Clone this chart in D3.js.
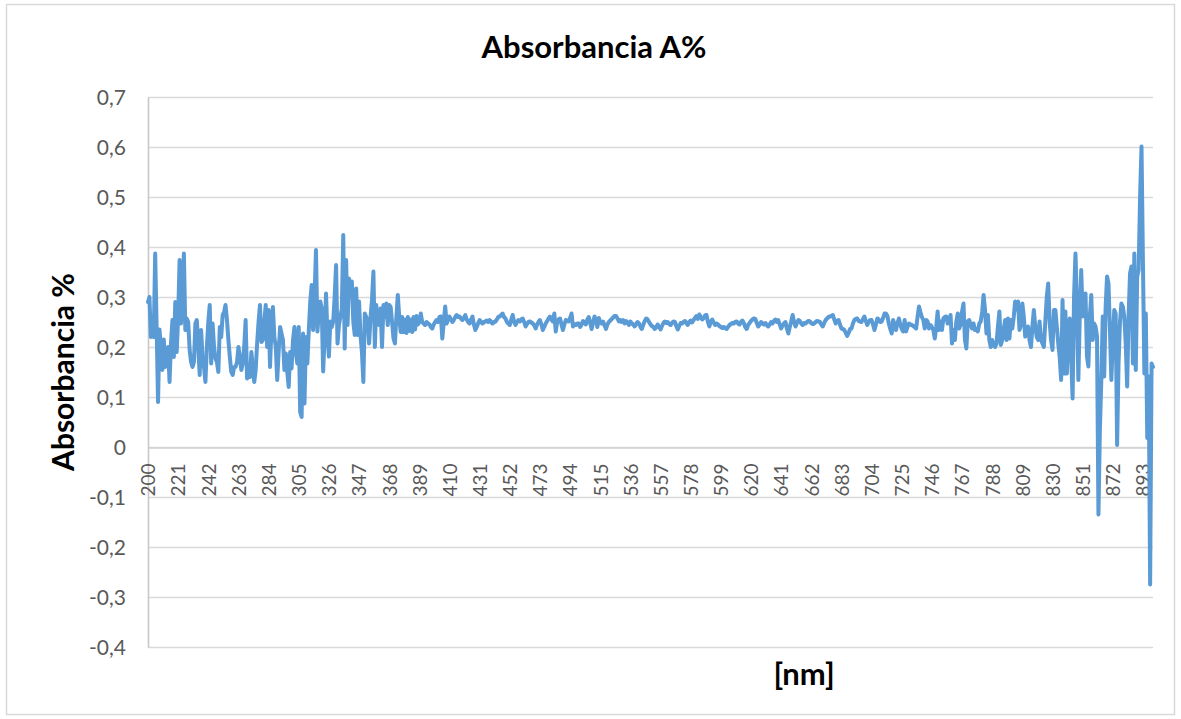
<!DOCTYPE html>
<html>
<head>
<meta charset="utf-8">
<script src="https://cdn.jsdelivr.net/npm/d3@7"></script>
<style>
  html, body { margin: 0; padding: 0; background: #ffffff; }
  svg { display: block; }
  text { font-family: Lato, "Open Sans", sans-serif; }
</style>
</head>
<body>
<svg id="chart" width="1181" height="719"></svg>
<script>
// Wavelength categories, 1 nm apart
const wavelengths = d3.range(200, 901);

// Absorbance readings, one per wavelength (200 nm … 900 nm)
const absorbance = [
  0.29, 0.30, 0.22, 0.25, 0.22, 0.387, 0.24, 0.09, 0.235, 0.20,
  0.154, 0.215, 0.16, 0.17, 0.20, 0.13, 0.207, 0.254, 0.18, 0.29,
  0.19, 0.26, 0.374, 0.247, 0.30, 0.387, 0.234, 0.257, 0.25, 0.194,
  0.17, 0.16, 0.17, 0.247, 0.254, 0.20, 0.144, 0.234, 0.18, 0.16,
  0.13, 0.20, 0.25, 0.284, 0.167, 0.247, 0.20, 0.177, 0.17, 0.15,
  0.24, 0.22, 0.264, 0.27, 0.284, 0.254, 0.214, 0.18, 0.15, 0.144,
  0.16, 0.16, 0.17, 0.20, 0.18, 0.154, 0.167, 0.20, 0.254, 0.137,
  0.15, 0.14, 0.19, 0.16, 0.13, 0.154, 0.207, 0.25, 0.284, 0.21,
  0.214, 0.25, 0.284, 0.20, 0.274, 0.16, 0.24, 0.28, 0.22, 0.20,
  0.134, 0.19, 0.24, 0.227, 0.214, 0.154, 0.187, 0.15, 0.12, 0.19,
  0.157, 0.214, 0.24, 0.19, 0.167, 0.24, 0.07, 0.06, 0.227, 0.087,
  0.22, 0.167, 0.234, 0.29, 0.324, 0.234, 0.30, 0.394, 0.231, 0.27,
  0.291, 0.277, 0.151, 0.22, 0.307, 0.224, 0.181, 0.251, 0.24, 0.251,
  0.30, 0.364, 0.207, 0.244, 0.26, 0.277, 0.424, 0.197, 0.374, 0.244,
  0.337, 0.311, 0.331, 0.25, 0.224, 0.317, 0.224, 0.291, 0.224, 0.19,
  0.13, 0.267, 0.26, 0.251, 0.207, 0.26, 0.294, 0.351, 0.20, 0.284,
  0.25, 0.244, 0.277, 0.20, 0.284, 0.26, 0.287, 0.244, 0.284, 0.28,
  0.25, 0.217, 0.207, 0.26, 0.304, 0.26, 0.23, 0.26, 0.23, 0.255,
  0.228, 0.26, 0.232, 0.255, 0.23, 0.26, 0.235, 0.262, 0.245, 0.25,
  0.267, 0.25, 0.247, 0.244, 0.25, 0.247, 0.245, 0.24, 0.237, 0.245,
  0.25, 0.254, 0.25, 0.26, 0.261, 0.217, 0.25, 0.281, 0.247, 0.255,
  0.261, 0.255, 0.25, 0.254, 0.26, 0.264, 0.26, 0.261, 0.257, 0.254,
  0.258, 0.264, 0.255, 0.25, 0.247, 0.255, 0.261, 0.245, 0.234, 0.24,
  0.248, 0.254, 0.25, 0.247, 0.25, 0.251, 0.253, 0.25, 0.254, 0.25,
  0.247, 0.25, 0.251, 0.255, 0.26, 0.261, 0.264, 0.267, 0.26, 0.257,
  0.25, 0.247, 0.244, 0.255, 0.264, 0.25, 0.244, 0.25, 0.254, 0.251,
  0.255, 0.257, 0.25, 0.241, 0.246, 0.25, 0.251, 0.249, 0.247, 0.243,
  0.237, 0.245, 0.25, 0.254, 0.245, 0.234, 0.24, 0.247, 0.252, 0.257,
  0.261, 0.255, 0.251, 0.267, 0.231, 0.25, 0.255, 0.257, 0.245, 0.234,
  0.245, 0.254, 0.252, 0.251, 0.258, 0.267, 0.241, 0.246, 0.244, 0.247,
  0.247, 0.24, 0.245, 0.252, 0.249, 0.245, 0.255, 0.26, 0.248, 0.236,
  0.25, 0.261, 0.254, 0.24, 0.258, 0.25, 0.247, 0.251, 0.243, 0.236,
  0.245, 0.25, 0.253, 0.256, 0.259, 0.262, 0.262, 0.257, 0.251, 0.254,
  0.25, 0.254, 0.247, 0.252, 0.249, 0.244, 0.251, 0.247, 0.245, 0.241,
  0.246, 0.25, 0.247, 0.24, 0.236, 0.245, 0.252, 0.257, 0.255, 0.25,
  0.245, 0.242, 0.24, 0.236, 0.24, 0.245, 0.24, 0.235, 0.242, 0.248,
  0.251, 0.248, 0.25, 0.246, 0.244, 0.248, 0.251, 0.25, 0.242, 0.235,
  0.242, 0.248, 0.247, 0.25, 0.252, 0.248, 0.244, 0.25, 0.253, 0.249,
  0.254, 0.258, 0.262, 0.256, 0.265, 0.26, 0.255, 0.258, 0.263, 0.264,
  0.25, 0.241, 0.25, 0.255, 0.249, 0.244, 0.247, 0.245, 0.242, 0.24,
  0.238, 0.24, 0.238, 0.236, 0.24, 0.244, 0.246, 0.248, 0.247, 0.25,
  0.251, 0.247, 0.245, 0.25, 0.253, 0.248, 0.24, 0.236, 0.244, 0.248,
  0.252, 0.255, 0.257, 0.256, 0.248, 0.241, 0.245, 0.25, 0.247, 0.245,
  0.248, 0.244, 0.241, 0.245, 0.25, 0.247, 0.252, 0.255, 0.25, 0.254,
  0.245, 0.237, 0.243, 0.247, 0.25, 0.237, 0.227, 0.24, 0.251, 0.264,
  0.25, 0.241, 0.248, 0.254, 0.252, 0.247, 0.244, 0.248, 0.247, 0.25,
  0.252, 0.251, 0.248, 0.246, 0.247, 0.25, 0.252, 0.251, 0.25, 0.245,
  0.241, 0.248, 0.254, 0.257, 0.26, 0.261, 0.262, 0.264, 0.255, 0.247,
  0.252, 0.254, 0.245, 0.237, 0.236, 0.234, 0.228, 0.222, 0.228, 0.236,
  0.237, 0.247, 0.254, 0.256, 0.257, 0.252, 0.251, 0.25, 0.256, 0.261,
  0.252, 0.244, 0.25, 0.254, 0.254, 0.245, 0.234, 0.245, 0.257, 0.255,
  0.25, 0.251, 0.258, 0.267, 0.267, 0.262, 0.247, 0.236, 0.227, 0.254,
  0.245, 0.234, 0.248, 0.257, 0.245, 0.236, 0.231, 0.254, 0.231, 0.24,
  0.247, 0.245, 0.244, 0.242, 0.24, 0.237, 0.26, 0.281, 0.27, 0.26,
  0.254, 0.237, 0.254, 0.251, 0.237, 0.244, 0.24, 0.234, 0.217, 0.24,
  0.271, 0.234, 0.251, 0.234, 0.257, 0.26, 0.261, 0.247, 0.255, 0.264,
  0.207, 0.234, 0.214, 0.251, 0.267, 0.237, 0.245, 0.271, 0.287, 0.214,
  0.197, 0.251, 0.254, 0.245, 0.237, 0.247, 0.234, 0.235, 0.231, 0.247,
  0.251, 0.27, 0.304, 0.274, 0.227, 0.264, 0.214, 0.2, 0.214, 0.205,
  0.2, 0.207, 0.241, 0.271, 0.204, 0.214, 0.235, 0.254, 0.214, 0.257,
  0.217, 0.254, 0.237, 0.26, 0.291, 0.275, 0.291, 0.234, 0.244, 0.287,
  0.261, 0.221, 0.235, 0.241, 0.214, 0.2, 0.241, 0.274, 0.241, 0.22,
  0.214, 0.251, 0.214, 0.207, 0.2, 0.251, 0.3, 0.327, 0.251, 0.214,
  0.194, 0.274, 0.274, 0.241, 0.207, 0.18, 0.134, 0.294, 0.147, 0.271,
  0.147, 0.227, 0.257, 0.18, 0.097, 0.301, 0.387, 0.287, 0.134, 0.261,
  0.354, 0.261, 0.27, 0.307, 0.181, 0.161, 0.261, 0.304, 0.214, 0.247,
  0.241, 0.221, -0.135, 0.034, 0.134, 0.261, 0.141, 0.28, 0.341, 0.327,
  0.234, 0.134, 0.207, 0.274, 0.267, 0.004, 0.167, 0.25, 0.287, 0.281,
  0.261, 0.207, 0.121, 0.261, 0.347, 0.361, 0.167, 0.387, 0.154, 0.341,
  0.354, 0.501, 0.601, 0.367, 0.147, 0.267, 0.018, 0.141, -0.275, 0.167,
  0.16
];

// Category labels shown on the wavelength axis
const tickLabels = [200, 221, 242, 263, 284, 305, 326, 347, 368, 389, 410, 431,
  452, 473, 494, 515, 536, 557, 578, 599, 620, 641, 662, 683, 704, 725, 746,
  767, 788, 809, 830, 851, 872, 893];

// Value axis ticks
const yTicks = [-0.4, -0.3, -0.2, -0.1, 0, 0.1, 0.2, 0.3, 0.4, 0.5, 0.6, 0.7];

const chartTitle = "Absorbancia A%";
const yTitle = "Absorbancia %";
const xTitle = "[nm]";

const plot = { left: 148, right: 1153, top: 97, bottom: 647 };
const svg = d3.select("#chart");

// chart area frame
svg.append("rect")
  .attr("x", 6.5).attr("y", 4.5)
  .attr("width", 1168).attr("height", 710)
  .attr("fill", "#ffffff")
  .attr("stroke", "#d9d9d9")
  .attr("stroke-width", 1.5);

const x = d3.scalePoint().domain(wavelengths).range([plot.left, plot.right]);
const y = d3.scaleLinear().domain([-0.4, 0.7]).range([plot.bottom, plot.top]);

const fmt = d => d === 0 ? "0" : (d < 0 ? "-" : "") + Math.abs(d).toFixed(1).replace(".", ",");

// horizontal gridlines
svg.append("g")
  .selectAll("line")
  .data(yTicks)
  .join("line")
  .attr("x1", plot.left).attr("x2", plot.right)
  .attr("y1", d => Math.round(y(d)) + 0.5)
  .attr("y2", d => Math.round(y(d)) + 0.5)
  .attr("stroke", "#d9d9d9")
  .attr("stroke-width", 1.6);

// value axis
const yAxis = svg.append("g")
  .attr("transform", `translate(${plot.left},0)`)
  .call(d3.axisLeft(y).tickValues(yTicks).tickSize(0).tickPadding(22).tickFormat(fmt));
yAxis.select(".domain")
  .attr("stroke", "#c8c8c8").attr("stroke-width", 1.6);
yAxis.selectAll("text")
  .attr("fill", "#595959")
  .style("font-size", "21px")
  .attr("dy", "0.36em");

// category axis along y = 0
const xAxis = svg.append("g")
  .attr("transform", `translate(0,${Math.round(y(0)) + 0.5})`)
  .call(d3.axisBottom(x).tickValues(tickLabels).tickSize(0));
xAxis.select(".domain")
  .attr("stroke", "#d0d0d0").attr("stroke-width", 1.6);
xAxis.selectAll("text")
  .attr("fill", "#595959")
  .style("font-size", "19px")
  .attr("text-anchor", "end")
  .attr("transform", "rotate(-90)")
  .attr("x", -16)
  .attr("y", 0)
  .attr("dy", "0.36em");

// absorbance trace
const line = d3.line()
  .x((d, i) => x(wavelengths[i]))
  .y(d => y(d));

svg.append("path")
  .datum(absorbance)
  .attr("d", line)
  .attr("fill", "none")
  .attr("stroke", "#5b9bd5")
  .attr("stroke-width", 4)
  .attr("stroke-linejoin", "round")
  .attr("stroke-linecap", "round");

// titles
svg.append("text")
  .attr("x", 594).attr("y", 58)
  .attr("text-anchor", "middle")
  .style("font-size", "31px").style("font-weight", 700)
  .attr("fill", "#000000")
  .text(chartTitle);

svg.append("text")
  .attr("transform", `translate(74,${(plot.top + plot.bottom) / 2}) rotate(-90)`)
  .attr("text-anchor", "middle")
  .style("font-size", "30px").style("font-weight", 700)
  .attr("fill", "#000000")
  .text(yTitle);

svg.append("text")
  .attr("x", 804).attr("y", 685)
  .attr("text-anchor", "middle")
  .style("font-size", "31px").style("font-weight", 700)
  .attr("fill", "#000000")
  .text(xTitle);
</script>
</body>
</html>
